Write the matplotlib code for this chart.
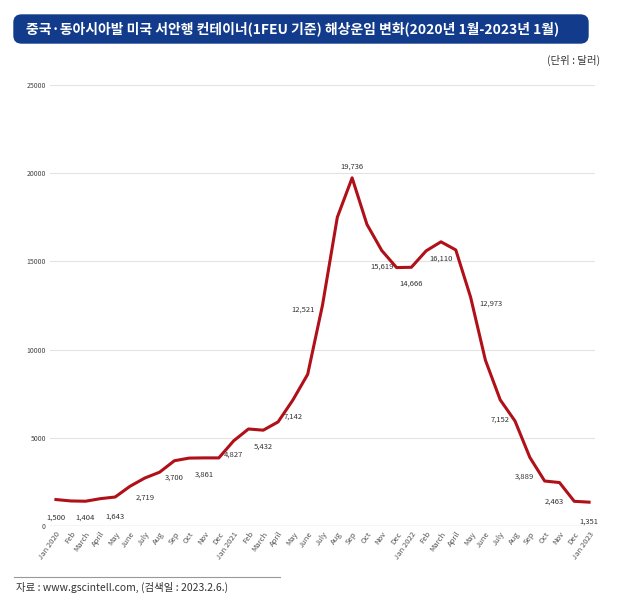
import matplotlib.pyplot as plt
from matplotlib.patches import FancyBboxPatch

plt.rcParams['font.family'] = ['Noto Sans CJK KR', 'DejaVu Sans']

months = ["Jan 2020", "Feb", "March", "April", "May", "June", "July", "Aug", "Sep", "Oct", "Nov", "Dec",
          "Jan 2021", "Feb", "March", "April", "May", "June", "July", "Aug", "Sep", "Oct", "Nov", "Dec",
          "Jan 2022", "Feb", "March", "April", "May", "June", "July", "Aug", "Sep", "Oct", "Nov", "Dec",
          "Jan 2023"]
rates = [1500, 1420, 1404, 1550, 1643, 2250, 2719, 3050, 3700, 3850, 3861, 3860,
         4827, 5500, 5432, 5900, 7142, 8600, 12521, 17500, 19736, 17100, 15619, 14650,
         14666, 15600, 16110, 15650, 12973, 9400, 7152, 5950, 3889, 2550, 2463, 1400,
         1351]
yticks = [0, 5000, 10000, 15000, 20000, 25000]

fig = plt.figure(figsize=(6.39, 6.10), dpi=100)
ax = fig.add_axes([50/639, 1 - 526/610, 545/639, 441/610])
x = list(range(len(months)))
ax.plot(x, rates, color="#b01018", lw=2.2)
ax.set_xlim(-0.4, 36.4)
ax.set_ylim(0, 25000)
ax.set_yticks(yticks)
ax.set_yticklabels([str(v) for v in yticks], fontsize=5, color="#444")
ax.set_xticks(x)
ax.set_xticklabels(months, rotation=55, ha="right", rotation_mode="anchor", fontsize=5.5, color="#555",
                   style="italic")
ax.grid(axis="y", color="#e3e3e3", lw=0.8)
ax.tick_params(length=0, pad=3)
for s in ax.spines.values():
    s.set_visible(False)
ax.axhline(0, color="#d8d8d8", lw=1)

# label offsets (points) for every second month
offs = {0: (0, -13), 2: (0, -12), 4: (0, -14), 6: (0, -14), 8: (0, -12), 10: (0, -12),
        12: (0, -10), 14: (0, -12), 16: (0, -12), 18: (-14, -3), 20: (0, 8), 22: (0, -12),
        24: (0, -12), 26: (0, -12), 28: (15, -5), 30: (0, -14), 32: (-4, -14), 34: (-4, -14),
        36: (0, -14)}
for i, (dx, dy) in offs.items():
    ax.annotate(f"{rates[i]:,}", (i, rates[i]), xytext=(dx, dy), textcoords="offset points",
                ha="center", va="center", fontsize=5.5, color="#333")

fig.patches.append(FancyBboxPatch((14/639, 1 - 43/610), 574/639, 28/610,
                                  boxstyle="round,pad=0,rounding_size=0.012",
                                  transform=fig.transFigure, color="#123b8c"))
fig.text(26/639, 1 - 29/610, "중국·동아시아발 미국 서안행 컨테이너(1FEU 기준) 해상운임 변화(2020년 1월-2023년 1월)",
         color="white", fontsize=10, fontweight="bold", va="center")
fig.text(600/639, 1 - 60/610, "(단위 : 달러)", fontsize=7.5, ha="right", va="center", color="#333")
fig.add_artist(plt.Line2D([14/639, 280/639], [1 - 577/610] * 2, color="#999", lw=0.8))
fig.text(16/639, 1 - 587/610, "자료 : www.gscintell.com, (검색일 : 2023.2.6.)", fontsize=7.5,
         va="center", color="#333")

fig.savefig("out.png", dpi=100, facecolor="white")
